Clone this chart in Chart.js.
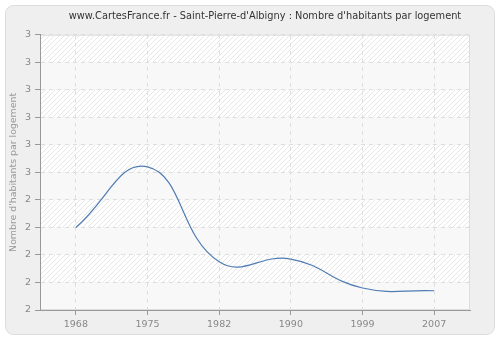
<!DOCTYPE html>
<html>
<head>
<meta charset="utf-8">
<script src="https://cdn.jsdelivr.net/npm/chart.js@4/dist/chart.umd.min.js"></script>
<style>
html,body{margin:0;padding:0;background:#ffffff;}
#wrap{width:500px;height:340px;position:relative;}
</style>
</head>
<body>
<div id="wrap"><canvas id="c" width="500" height="340"></canvas></div>
<script>
const years = ["1968","1975","1982","1990","1999","2007"];
const habitantsParLogement = [2.30, 2.52, 2.175, 2.185, 2.08, 2.07];
const yMin = 2;
const yMax = 3;
const yStep = 0.1;
const titleText = "www.CartesFrance.fr - Saint-Pierre-d'Albigny : Nombre d'habitants par logement";
const yAxisTitle = "Nombre d'habitants par logement";

function makeHatch(ctx){
  const p = document.createElement('canvas');
  p.width = 5; p.height = 5;
  const g = p.getContext('2d');
  g.fillStyle = '#ffffff';
  g.fillRect(0,0,5,5);
  g.strokeStyle = '#e6e6e6';
  g.lineWidth = 1;
  g.beginPath();
  g.moveTo(-1,6); g.lineTo(6,-1);
  g.moveTo(-1,1); g.lineTo(1,-1);
  g.moveTo(4,6); g.lineTo(6,4);
  g.stroke();
  return ctx.createPattern(p,'repeat');
}

const bgPlugin = {
  id:'bg',
  afterLayout(chart){
    const t = chart.titleBlock;
    if (t){ t.left = 30; t.right = 500; t.width = 470; }
  },
  beforeDraw(chart){
    const ctx = chart.ctx;
    ctx.save();
    const x=5.5,y=5.5,w=489,h=329,r=8;
    ctx.beginPath();
    ctx.moveTo(x+r,y);
    ctx.arcTo(x+w,y,x+w,y+h,r);
    ctx.arcTo(x+w,y+h,x,y+h,r);
    ctx.arcTo(x,y+h,x,y,r);
    ctx.arcTo(x,y,x+w,y,r);
    ctx.closePath();
    ctx.fillStyle='#efefef';
    ctx.fill();
    ctx.strokeStyle='#dcdcdc';
    ctx.lineWidth=1;
    ctx.stroke();
    const a = chart.chartArea;
    const ys = chart.scales.y;
    const hatch = makeHatch(ctx);
    const n = Math.round((yMax-yMin)/yStep);
    for(let i=0;i<n;i++){
      const t = ys.getPixelForValue(yMax - i*yStep);
      const b = ys.getPixelForValue(yMax - (i+1)*yStep);
      ctx.fillStyle = (i%2===0) ? hatch : '#f8f8f8';
      ctx.fillRect(a.left, t, a.right-a.left, b-t);
    }
    ctx.strokeStyle='#dddddd';
    ctx.lineWidth=1;
    ctx.strokeRect(a.left+0.5, a.top+0.5, a.right-a.left-1, a.bottom-a.top-1);
    ctx.restore();
  }
};

new Chart(document.getElementById('c'), {
  type:'line',
  data:{
    labels: years,
    datasets:[{
      data: habitantsParLogement,
      borderColor:'#4f7cb2',
      borderWidth:1.2,
      pointRadius:0,
      pointHoverRadius:0,
      fill:false,
      tension:0.45
    }]
  },
  options:{
    responsive:false,
    animation:false,
    events:[],
    layout:{padding:{left:0,right:30,top:0,bottom:0}},
    plugins:{
      legend:{display:false},
      tooltip:{enabled:false},
      title:{
        display:true,
        text:titleText,
        color:'#333333',
        font:{family:'DejaVu Sans',size:9.8,weight:'normal'},
        padding:{top:11,bottom:12},
        align:'center'
      }
    },
    scales:{
      x:{
        type:'category',
        offset:true,
        grid:{
          display:true,
          offset:false,
          color:'#dedede',
          tickLength:5,
          tickColor:'#999999',
          drawTicks:true
        },
        border:{display:true,color:'#999999',width:1,dash:[4,4]},
        ticks:{color:'#888888',font:{family:'DejaVu Sans',size:9.5},padding:4,maxRotation:0},
        afterFit(s){ s.height = 30; }
      },
      y:{
        min:yMin,
        max:yMax,
        grid:{
          color:'#dedede',
          tickLength:5,
          tickColor:'#999999'
        },
        border:{display:true,color:'#999999',width:1,dash:[4,4]},
        ticks:{
          stepSize:yStep,
          color:'#888888',
          font:{family:'DejaVu Sans',size:9.5},
          padding:4,
          callback:(v)=>String(Math.round(v))
        },
        title:{
          display:true,
          text:yAxisTitle,
          color:'#999999',
          font:{family:'DejaVu Sans',size:9.4},
          padding:{top:8,bottom:0}
        },
        afterFit(s){ s.width = 40; }
      }
    }
  },
  plugins:[bgPlugin]
});
</script>
</body>
</html>
